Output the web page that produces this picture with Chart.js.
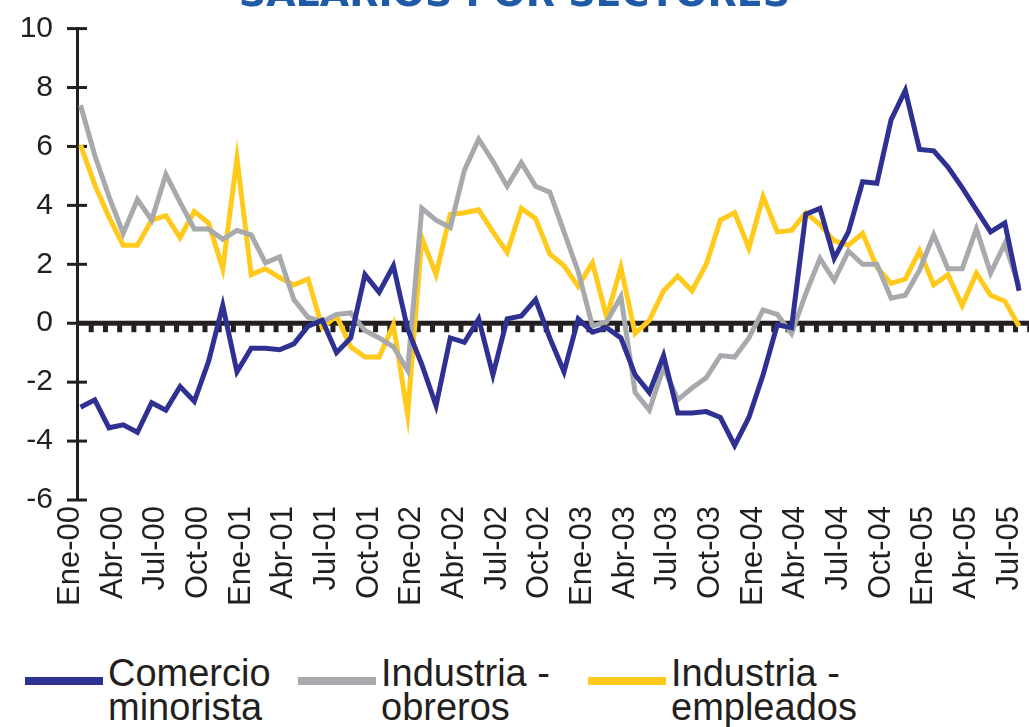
<!DOCTYPE html>
<html><head><meta charset="utf-8">
<script src="https://cdn.jsdelivr.net/npm/chart.js@4.4.1/dist/chart.umd.min.js"></script>
<style>
html,body{margin:0;padding:0;background:#fff;overflow:hidden;width:1029px;height:727px;}
#wrap{position:absolute;left:0;top:-27px;width:1029px;height:667px;}
#legend{position:absolute;left:0;top:656px;width:1029px;height:71px;font-family:'Liberation Sans',Arial,sans-serif;color:#231f20;}
.swatch{position:absolute;height:8px;top:21px;}
.txt{position:absolute;top:0;font-size:38px;line-height:34px;white-space:nowrap;}
</style></head><body>
<div id="wrap"><canvas id="c"></canvas></div>
<div id="legend"></div>
<script>
const months = ['Ene-00','Feb-00','Mar-00','Abr-00','May-00','Jun-00','Jul-00','Ago-00','Sep-00','Oct-00','Nov-00','Dic-00',
'Ene-01','Feb-01','Mar-01','Abr-01','May-01','Jun-01','Jul-01','Ago-01','Sep-01','Oct-01','Nov-01','Dic-01',
'Ene-02','Feb-02','Mar-02','Abr-02','May-02','Jun-02','Jul-02','Ago-02','Sep-02','Oct-02','Nov-02','Dic-02',
'Ene-03','Feb-03','Mar-03','Abr-03','May-03','Jun-03','Jul-03','Ago-03','Sep-03','Oct-03','Nov-03','Dic-03',
'Ene-04','Feb-04','Mar-04','Abr-04','May-04','Jun-04','Jul-04','Ago-04','Sep-04','Oct-04','Nov-04','Dic-04',
'Ene-05','Feb-05','Mar-05','Abr-05','May-05','Jun-05','Jul-05'];

const comercio = [-2.85,-2.6,-3.55,-3.45,-3.7,-2.7,-2.95,-2.15,-2.65,-1.3,0.6,-1.65,
-0.85,-0.85,-0.9,-0.7,-0.1,0.1,-1.0,-0.5,1.65,1.05,1.95,-0.2,
-1.4,-2.8,-0.5,-0.65,0.15,-1.75,0.15,0.25,0.8,-0.5,-1.65,0.15,
-0.3,-0.15,-0.5,-1.75,-2.35,-1.1,-3.05,-3.05,-3.0,-3.2,-4.15,-3.2,
-1.75,-0.05,-0.15,3.7,3.9,2.2,3.1,4.8,4.75,6.9,7.9,5.9,
5.85,5.3,4.6,3.85,3.1,3.4,1.1];

const obreros = [7.4,5.7,4.3,3.05,4.2,3.5,5.05,4.1,3.2,3.2,2.85,3.15,
3.0,2.05,2.25,0.8,0.2,0.05,0.3,0.35,-0.25,-0.5,-0.8,-1.6,
3.9,3.5,3.25,5.2,6.25,5.5,4.65,5.45,4.65,4.45,3.1,1.75,
-0.1,0.05,0.9,-2.35,-2.95,-1.5,-2.6,-2.2,-1.85,-1.1,-1.15,-0.5,
0.45,0.3,-0.35,1.0,2.2,1.45,2.45,2.0,2.0,0.85,0.95,1.8,
3.0,1.85,1.85,3.2,1.7,2.7,1.25];

const empleados = [6.05,4.7,3.6,2.65,2.65,3.5,3.65,2.9,3.8,3.4,1.85,5.6,
1.65,1.85,1.55,1.3,1.5,-0.15,0.25,-0.8,-1.15,-1.15,-0.05,-3.1,
2.9,1.65,3.7,3.75,3.85,3.1,2.4,3.9,3.55,2.35,1.95,1.25,
2.05,0.2,1.9,-0.35,0.1,1.1,1.6,1.1,2.0,3.5,3.75,2.55,
4.3,3.1,3.15,3.75,3.35,2.8,2.65,3.05,1.9,1.35,1.5,2.45,
1.3,1.65,0.6,1.7,0.95,0.75,-0.1];

const seriesNames = ['Comercio\nminorista','Industria -\nobreros','Industria -\nempleados'];
const seriesColors = ['#2e3192','#a7a9ac','#ffca1c'];
const seriesValues = [comercio, obreros, empleados];
const labelEvery = 3;

const INK = '#231f20';
const legendLeft = [25, 298, 588];

const axisMarks = {
  id: 'axisMarks',
  beforeDatasetsDraw(chart) {
    const {ctx, chartArea: a, scales: {x, y}} = chart;
    const y0 = y.getPixelForValue(0);
    ctx.save();
    ctx.fillStyle = INK;
    ctx.fillRect(a.left, y0 - 2.5, chart.width - a.left, 5);
    for (let k = 1; k <= months.length; k++) {
      const px = x.getPixelForValue(k - 0.25);
      ctx.fillRect(px - 2.5, y0 + 2, 5, 7);
    }
    y.ticks.forEach(t => {
      const py = y.getPixelForValue(t.value);
      ctx.fillRect(a.left - 10, py - 1.5, 20, 3);
    });
    ctx.restore();
  }
};

const chart = new Chart(document.getElementById('c'), {
  type: 'line',
  data: {
    datasets: seriesValues.map((vals, s) => ({
      label: seriesNames[s],
      data: vals.map((v, i) => ({x: i, y: v})),
      borderColor: seriesColors[s],
      backgroundColor: seriesColors[s],
      borderWidth: 5,
      pointRadius: 0,
      tension: 0,
      fill: false
    }))
  },
  options: {
    responsive: true,
    maintainAspectRatio: false,
    animation: false,
    layout: {padding: {left: 0, right: 0, top: 0, bottom: 0}},
    plugins: {
      legend: {display: false},
      tooltip: {enabled: false},
      title: {
        display: true,
        text: 'SALARIOS POR SECTORES',
        color: '#1f5aa6',
        font: {family: "'DejaVu Sans', sans-serif", size: 38, weight: 'bold'},
        padding: {top: 0, bottom: 10}
      }
    },
    scales: {
      x: {
        type: 'linear',
        min: -0.25,
        max: months.length - 0.3,
        afterBuildTicks: s => {
          s.ticks = months.map((m, i) => i).filter(i => i % labelEvery === 0).map(v => ({value: v}));
        },
        afterFit: s => { s.height = 140; s.paddingLeft = 0; s.paddingRight = 0; },
        grid: {display: false, drawTicks: false},
        border: {display: false},
        ticks: {
          autoSkip: false,
          minRotation: 90,
          maxRotation: 90,
          padding: 6,
          labelOffset: -10,
          color: INK,
          font: {family: "'Liberation Sans', Arial, sans-serif", size: 31},
          callback: v => months[v] ?? ''
        }
      },
      y: {
        min: -6,
        max: 10,
        afterFit: s => { s.width = 77; s.paddingTop = 0; s.paddingBottom = 0; },
        grid: {display: false, drawTicks: false},
        border: {display: true, width: 3, color: INK},
        ticks: {
          stepSize: 2,
          padding: 24,
          color: INK,
          font: {family: "'Liberation Sans', Arial, sans-serif", size: 30}
        }
      }
    }
  },
  plugins: [axisMarks]
});

const legendEl = document.getElementById('legend');
chart.data.datasets.forEach((ds, i) => {
  const sw = document.createElement('div');
  sw.className = 'swatch';
  sw.style.left = legendLeft[i] + 'px';
  sw.style.width = '78px';
  sw.style.background = ds.borderColor;
  legendEl.appendChild(sw);
  const tx = document.createElement('div');
  tx.className = 'txt';
  tx.style.left = (legendLeft[i] + 83) + 'px';
  ds.label.split('\n').forEach((line, j) => {
    if (j) tx.appendChild(document.createElement('br'));
    tx.appendChild(document.createTextNode(line));
  });
  legendEl.appendChild(tx);
});
</script>
</body></html>
